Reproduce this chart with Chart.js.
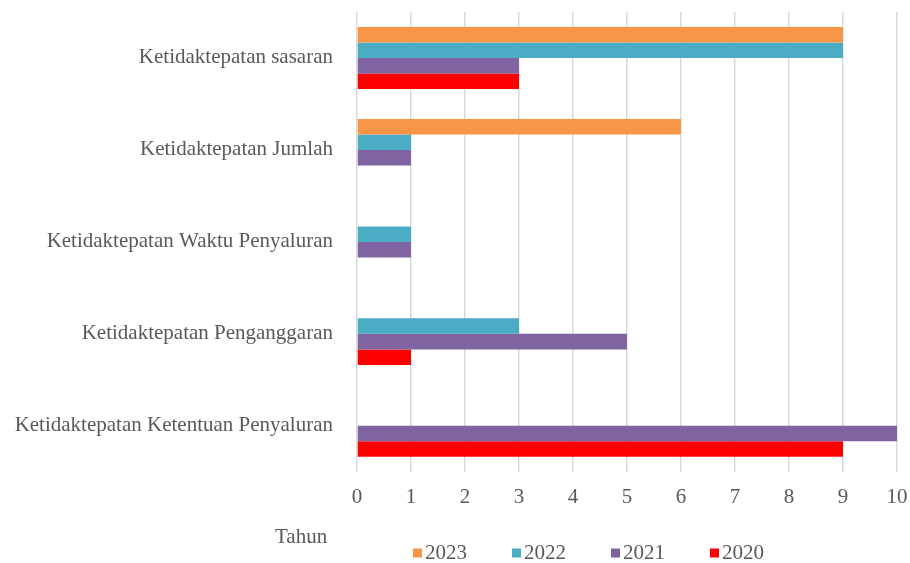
<!DOCTYPE html>
<html>
<head>
<meta charset="utf-8">
<script src="https://cdn.jsdelivr.net/npm/chart.js@4/dist/chart.umd.min.js"></script>
<style>
  html, body { margin: 0; padding: 0; background: #ffffff; }
  #wrap { position: relative; width: 910px; height: 563px; }
</style>
</head>
<body>
<div id="wrap"><canvas id="c" width="910" height="563"></canvas></div>
<script>
const categories = [
  "Ketidaktepatan sasaran",
  "Ketidaktepatan Jumlah",
  "Ketidaktepatan Waktu Penyaluran",
  "Ketidaktepatan Penganggaran",
  "Ketidaktepatan Ketentuan Penyaluran"
];
const seriesNames = ["2023", "2022", "2021", "2020"];
const values2023 = [9, 6, 0, 0, 0];
const values2022 = [9, 1, 1, 3, 0];
const values2021 = [3, 1, 1, 5, 10];
const values2020 = [3, 0, 0, 1, 9];
const xTicks = [0, 1, 2, 3, 4, 5, 6, 7, 8, 9, 10];
const axisTitle = "Tahun";

const colors = ["#F79646", "#4BACC6", "#8064A2", "#FF0000"];
const seriesValues = [values2023, values2022, values2021, values2020];
const FONT = "'Liberation Serif', 'Times New Roman', serif";
const TEXT = "#595959";

// Draws the axis caption and the legend (entries taken from the datasets)
const bottomPlugin = {
  id: "bottomLegend",
  afterDraw(chart) {
    const ctx = chart.ctx;
    const area = chart.chartArea;
    ctx.save();
    ctx.font = "21px " + FONT;
    ctx.fillStyle = TEXT;
    ctx.textAlign = "left";
    ctx.textBaseline = "middle";
    ctx.fillText(axisTitle, area.left - 82, 537);

    const startX = 413, y = 553, step = 99, box = 9;
    chart.data.datasets.forEach((ds, i) => {
      const x = startX + i * step;
      ctx.fillStyle = ds.backgroundColor;
      ctx.fillRect(x, y - box / 2, box, box);
      ctx.fillStyle = TEXT;
      ctx.fillText(ds.label, x + box + 3, y);
    });
    ctx.restore();
  }
};

new Chart(document.getElementById("c"), {
  type: "bar",
  data: {
    labels: categories,
    datasets: seriesNames.map((n, i) => ({
      label: n,
      data: seriesValues[i],
      backgroundColor: colors[i],
      borderWidth: 0,
      categoryPercentage: 0.675,
      barPercentage: 1.0
    }))
  },
  options: {
    indexAxis: "y",
    responsive: false,
    animation: false,
    layout: { padding: { top: 12, right: 13, bottom: 40, left: 0 } },
    scales: {
      x: {
        min: 0, max: 10,
        afterBuildTicks(scale) { scale.ticks = xTicks.map(v => ({ value: v })); },
        afterFit(scale) { scale.paddingLeft = 0; scale.paddingRight = 0; },
        grid: { color: "#d9d9d9", lineWidth: 1.5, drawTicks: false },
        border: { display: false },
        ticks: { font: { family: FONT, size: 21 }, color: TEXT, padding: 13 }
      },
      y: {
        afterFit(scale) { scale.width = 357; scale.paddingTop = 0; scale.paddingBottom = 0; },
        grid: { display: false, drawTicks: false },
        border: { display: false },
        ticks: { font: { family: FONT, size: 21 }, color: TEXT, padding: 24 }
      }
    },
    plugins: {
      legend: { display: false },
      tooltip: { enabled: false }
    }
  },
  plugins: [bottomPlugin]
});
</script>
</body>
</html>
